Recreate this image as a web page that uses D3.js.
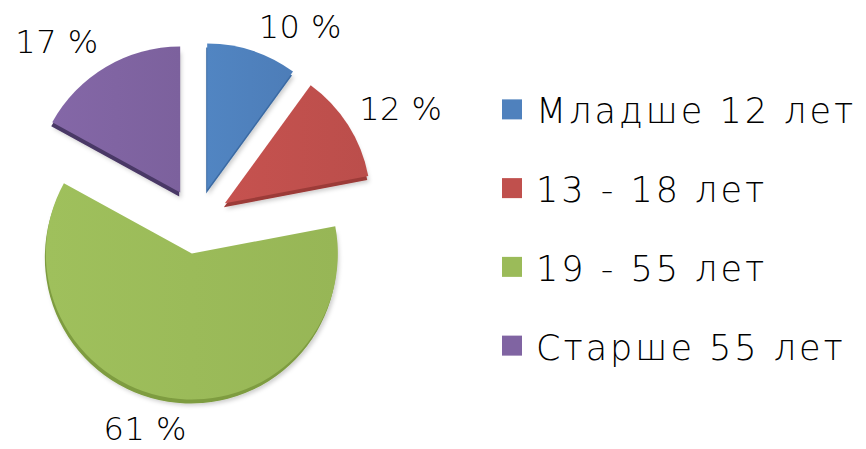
<!DOCTYPE html>
<html>
<head>
<meta charset="utf-8">
<script src="https://cdn.jsdelivr.net/npm/d3@7"></script>
<style>
    body { margin: 0; background: #fff; }
    text { font-family: "DejaVu Sans", sans-serif; font-weight: 200; fill: #000; }
</style>
</head>
<body>
<div id="chart"></div>
<script>
// chart data
let categories = ["Младше 12 лет", "13 - 18 лет", "19 - 55 лет", "Старше 55 лет"];
let values = [10, 12, 61, 17];
let colors = ["#4F81BD", "#C0504D", "#9BBB59", "#8064A2"];
let sideColors = ["#3a6aa3", "#9c3b38", "#7e9c41", "#4a3766"];

// label placement tweaks (angle nudge in degrees, distance from centre),
// so the labels sit where excel put them
let labelNudge = [10, 3.4, 5, -7.3];
let labelRadius = [220, 233, 214, 228];

/**
 * Draws the exploded pie and its legend.
 */
function main() {
    let w = 866, h = 449;
    let dims = {cx: 197, cy: 221, radius: 146, explode: 33, depth: 4};

    let svg = d3.select("#chart")
                .append("svg")
                .attr("width", w)
                .attr("height", h);

    let defs = svg.append("defs");
    defs.append("filter")
        .attr("id", "shadow")
        .attr("x", "-20%").attr("y", "-20%")
        .attr("width", "140%").attr("height", "140%")
        .append("feDropShadow")
        .attr("dx", 2).attr("dy", 2)
        .attr("stdDeviation", 2)
        .attr("flood-color", "#000")
        .attr("flood-opacity", 0.2);

    // light left-to-right sheen on each slice
    colors.forEach(function(c, i) {
        let grad = defs.append("linearGradient")
                       .attr("id", "grad" + i)
                       .attr("x1", "0%").attr("x2", "100%")
                       .attr("y1", "0%").attr("y2", "0%");
        grad.append("stop").attr("offset", "0%")
            .attr("stop-color", d3.color(c).brighter(0.08));
        grad.append("stop").attr("offset", "100%")
            .attr("stop-color", d3.color(c).darker(0.08));
    });

    let pie = d3.pie()
                .sort(null)
                .value(function(d) { return d; });

    let arcs = pie(values);

    let arc = d3.arc()
                .innerRadius(0)
                .outerRadius(dims.radius);

    let g = svg.append("g")
               .attr("transform", "translate(" + dims.cx + "," + dims.cy + ")");

    // offset of each slice pulled out along its middle angle
    function shift(d) {
        let mid = (d.startAngle + d.endAngle) / 2;
        return [Math.sin(mid) * dims.explode, -Math.cos(mid) * dims.explode];
    }

    let slices = g.selectAll(".slice")
                  .data(arcs)
                  .enter()
                  .append("g")
                  .attr("class", "slice")
                  .attr("transform", function(d) {
                      return "translate(" + shift(d) + ")";
                  });

    // thin side of the 3d slice
    slices.append("path")
          .attr("d", arc)
          .attr("transform", "translate(-1," + dims.depth + ")")
          .attr("fill", function(d, i) { return sideColors[i]; })
          .attr("filter", "url(#shadow)");

    slices.append("path")
          .attr("d", arc)
          .attr("fill", function(d, i) { return "url(#grad" + i + ")"; });

    // percentage labels outside each slice
    g.selectAll(".label")
     .data(arcs)
     .enter()
     .append("text")
     .attr("class", "label")
     .attr("transform", function(d, i) {
         let n = labelNudge[i] * Math.PI / 180;
         let labelArc = d3.arc()
                          .innerRadius(labelRadius[i])
                          .outerRadius(labelRadius[i]);
         let p = labelArc.centroid({startAngle: d.startAngle + n,
                                    endAngle: d.endAngle + n});
         return "translate(" + p + ")";
     })
     .attr("text-anchor", "middle")
     .attr("dy", "0.36em")
     .style("font-size", "32px")
     .style("letter-spacing", "0.5px")
     .text(function(d) { return d.value + " %"; });

    // legend
    let yLegend = d3.scalePoint()
                    .domain(categories)
                    .range([70, 385])
                    .padding(0.5);

    let legend = svg.append("g")
                    .selectAll("g")
                    .data(categories)
                    .enter()
                    .append("g")
                    .attr("transform", function(d) {
                        return "translate(502," + yLegend(d) + ")";
                    });

    legend.append("rect")
          .attr("x", 0)
          .attr("y", -10)
          .attr("width", 20)
          .attr("height", 20)
          .attr("fill", function(d, i) { return colors[i]; });

    legend.append("text")
          .attr("x", 34)
          .attr("y", 14)
          .style("font-size", "35px")
          .style("letter-spacing", "3px")
          .text(function(d) { return d; });
}

main();
</script>
</body>
</html>
